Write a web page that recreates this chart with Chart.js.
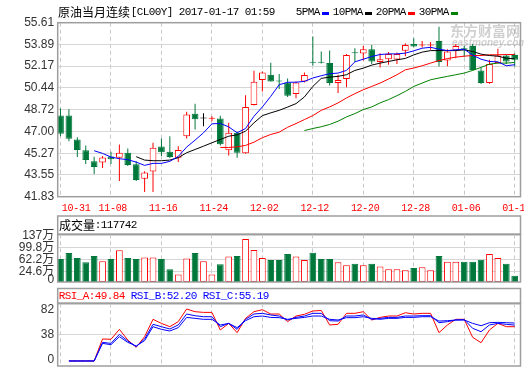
<!DOCTYPE html>
<html>
<head>
<meta charset="utf-8">
<script src="https://cdn.jsdelivr.net/npm/chart.js@4.4.0/dist/chart.umd.min.js"></script>
<style>
  html, body { margin: 0; padding: 0; background: #fff; }
  #wrap { position: relative; width: 524px; height: 369px; overflow: hidden; background: #fff; }
  #wrap canvas { position: absolute; left: 0; }
</style>
</head>
<body>
<div id="wrap">
  <canvas id="priceChart" width="524" height="214" style="top:0"></canvas>
  <canvas id="volChart" width="524" height="86" style="top:214px"></canvas>
  <canvas id="rsiChart" width="524" height="83" style="top:286px"></canvas>
</div>
<script>
// ---- data ----
const dates = ['10-31','11-01','11-02','11-03','11-04','11-07','11-08','11-09','11-10','11-11',
  '11-14','11-15','11-16','11-17','11-18','11-21','11-22','11-23','11-24','11-25',
  '11-28','11-29','11-30','12-01','12-02','12-05','12-06','12-07','12-08','12-09',
  '12-12','12-13','12-14','12-15','12-16','12-19','12-20','12-21','12-22','12-23',
  '12-26','12-27','12-28','12-29','12-30','01-03','01-04','01-05','01-06','01-09',
  '01-10','01-11','01-12','01-13','01-16'];
const dateTicks = [0, 6, 12, 18, 24, 30, 36, 42, 48, 54];

const opens = [48.26,48.26,46.36,45.50,44.63,44.53,45.02,44.92,45.31,44.39,
  43.26,43.82,45.81,45.39,44.92,46.62,48.39,48.02,48.00,48.02,
  45.50,46.89,45.28,49.10,51.07,51.49,50.97,50.88,49.97,50.96,
  52.52,52.47,52.41,50.83,51.15,53.23,53.17,53.51,52.49,52.72,
  52.70,53.38,53.93,53.80,53.80,54.17,52.61,53.40,53.59,53.77,
  51.83,50.83,52.41,53.01,53.06];
const highs = [48.81,48.75,46.54,45.89,45.00,45.05,45.39,45.97,45.65,44.63,
  43.84,46.10,46.44,46.62,45.83,48.55,49.20,48.44,48.20,48.25,
  47.68,46.99,49.86,51.80,51.75,52.43,51.54,51.20,50.96,51.67,
  54.51,53.32,53.40,51.49,53.14,53.59,53.77,53.85,53.20,53.28,
  53.25,53.99,54.38,54.17,54.09,55.29,53.51,53.93,53.77,53.93,
  52.02,52.67,53.54,53.06,53.20];
const lows = [46.62,46.23,44.97,44.42,43.63,44.10,44.42,43.08,44.26,43.08,
  42.21,42.21,45.05,44.89,44.57,46.44,47.15,47.41,47.81,45.89,
  45.10,44.92,45.23,49.05,50.17,50.96,50.36,49.73,49.62,50.88,
  52.22,52.38,50.64,50.04,50.49,52.49,52.61,52.33,52.06,52.28,
  52.33,52.95,53.66,53.64,53.46,52.14,52.17,52.80,52.88,51.83,
  50.75,50.78,52.38,52.33,52.14];
const closes = [46.81,46.42,45.52,44.73,44.18,44.94,44.79,45.31,44.34,43.15,
  43.74,45.71,45.36,44.97,45.52,48.33,47.96,48.02,48.03,45.99,
  46.89,45.31,48.94,50.94,51.67,50.96,50.95,49.83,50.88,51.46,
  52.44,52.44,50.83,51.07,53.06,53.20,53.51,52.54,52.72,53.14,
  53.14,53.85,53.72,53.87,53.85,52.49,53.32,53.77,53.46,51.86,
  50.83,52.33,53.01,52.54,52.67];

const ma5 = [null,null,null,null,45.47,45.26,44.97,44.84,44.76,44.57,
  44.31,44.47,44.47,44.63,45.02,45.76,46.31,46.89,47.60,47.63,
  47.36,46.89,47.23,48.20,48.94,49.78,50.70,50.89,50.90,50.96,
  51.23,51.41,51.57,51.62,51.83,52.51,52.72,52.93,53.09,53.14,
  53.14,53.20,53.38,53.59,53.66,53.51,53.40,53.46,53.51,53.04,
  52.72,52.54,52.51,52.20,52.28];
const ma10 = [null,null,null,null,null,null,null,null,null,45.00,
  44.73,44.68,44.68,44.73,44.92,45.31,45.57,45.83,46.10,46.36,
  46.62,46.73,47.02,47.68,48.25,48.47,48.67,48.93,49.20,49.73,
  50.56,51.20,51.30,51.36,51.49,51.83,52.01,52.25,52.41,52.54,
  52.67,52.78,53.06,53.28,53.40,53.40,53.40,53.40,53.46,53.33,
  53.12,53.01,52.96,52.80,52.75];
const ma20 = [null,null,null,null,null,null,null,null,null,null,
  null,null,null,null,null,null,null,null,null,45.73,
  45.73,45.78,45.89,46.15,46.50,46.76,46.94,47.33,47.62,47.94,
  48.25,48.67,48.94,49.26,49.65,49.99,50.30,50.56,50.83,51.15,
  51.49,51.88,52.02,52.20,52.41,52.61,52.77,52.88,52.96,53.01,
  53.01,53.07,53.07,53.09,53.09];
const ma30 = [null,null,null,null,null,null,null,null,null,null,
  null,null,null,null,null,null,null,null,null,null,
  null,null,null,null,null,null,null,null,null,47.07,
  47.23,47.37,47.55,47.81,48.15,48.41,48.73,48.94,49.26,49.52,
  49.83,50.17,50.56,50.83,51.09,51.23,51.36,51.49,51.62,51.83,
  52.07,52.33,52.41,52.41,52.46];

// volume in 万
const volumes = [63.3,82.1,66.4,53.9,72.7,57.0,63.3,90.5,66.4,63.3,
  68.6,68.6,63.3,32.0,15.4,65.5,82.1,57.0,15.4,47.6,
  71.7,72.7,126.0,91.5,66.4,60.2,60.2,79.0,71.7,60.2,
  83.0,63.3,63.3,53.9,44.5,48.6,44.5,48.6,40.4,32.0,
  32.0,28.8,35.5,38.2,28.8,72.7,54.8,54.8,54.8,54.8,
  61.1,79.0,66.4,48.6,11.7742];

const rsiA = [null,0,0,0,0,32.0,31.5,46.0,30.5,19.9,
  35.4,60.6,54.7,49.9,57.2,75.6,71.7,70.7,70.7,45.1,
  54.7,41.2,62.0,71.7,74.6,68.3,68.3,57.2,65.4,67.9,
  72.7,73.5,52.4,53.3,69.3,69.3,71.7,59.6,63.4,65.4,
  65.4,70.2,68.3,69.3,69.3,41.2,52.4,60.6,60.6,34.4,
  26.6,45.1,54.7,49.9,49.84];
const rsiB = [null,0,0,0,0,27.1,25.6,38.7,29.1,20.9,
  32.0,53.3,49.9,46.5,52.4,68.3,65.8,64.4,64.4,49.9,
  54.7,46.0,60.6,68.3,69.3,66.9,65.4,59.6,63.4,65.4,
  69.3,69.3,58.6,58.1,65.4,65.4,66.9,60.6,62.0,63.4,
  63.4,65.4,65.4,65.9,65.9,55.7,57.2,59.6,60.1,47.5,
  42.6,52.4,54.7,53.3,52.20];
const rsiC = [null,0,0,0,0,25.6,23.7,35.4,27.1,21.8,
  29.6,49.9,46.0,43.6,48.5,63.4,62.0,60.6,60.6,52.4,
  54.7,48.5,58.6,64.4,65.4,63.4,63.0,60.6,62.0,63.4,
  65.4,65.4,60.6,59.6,63.0,63.0,64.4,62.0,60.6,62.0,
  62.0,63.4,63.4,64.4,64.4,58.1,58.6,59.6,59.6,54.7,
  51.3,55.7,56.2,55.7,55.19];

const priceTicks = [55.61, 53.89, 52.17, 50.44, 48.72, 47.00, 45.27, 43.55, 41.83];
const volTicks = [0, 24.6, 62.2, 99.8, 137];
const rsiTicks = [0, 38, 82];

const titleName = '原油当月连续';
const titleCode = '[CL00Y] 2017-01-17 01:59';
const maNames = ['5PMA', '10PMA', '20PMA', '30PMA'];

// ---- look ----
const RED = '#ff0000', GREEN = '#00783c', BLUE = '#0000ff', BLACK = '#000000', DKGREEN = '#008000';
const maColors = [BLUE, BLACK, RED, DKGREEN];
const GRID = '#d6d6d6', VGRID = '#c8c8c8', FRAME = '#9e9e9e';
const FONT_CJK = '"Noto Sans CJK SC", sans-serif';
const FONT_MONO = '"Liberation Mono", "DejaVu Sans Mono", monospace';
const FONT_AXIS = '"Liberation Sans", "Noto Sans CJK SC", sans-serif';
const X_MIN = -0.333, X_MAX = 54.69;
const AXIS_W = 57.7, PAD_RIGHT = 3.5;
const VOL_MIN = -7.8, VOL_MAX = 140.4;
const RSI_MIN = -7.3, RSI_MAX = 83.9;

const pts = arr => arr.map((y, x) => ({ x, y }));
const candleColor = closes.map((c, i) => c > opens[i] ? RED : (c < opens[i] ? GREEN : BLACK));
const volUp = closes.map((c, i) => c >= opens[i]);

function monoText(ctx, text, x, y, step) {
    ctx.textAlign = 'center';
    for (let k = 0; k < text.length; k++) {
        ctx.fillText(text[k], x + step * k + step / 2, y);
    }
}

function drawFrame(ctx, x1, y1, x2, y2) {
    ctx.save();
    ctx.strokeStyle = FRAME;
    ctx.lineWidth = 1.5;
    ctx.strokeRect(x1, y1, x2 - x1, y2 - y1);
    ctx.restore();
}

function xAxis(height) {
    return {
        type: 'linear', min: X_MIN, max: X_MAX, offset: false,
        afterBuildTicks: s => { s.ticks = dateTicks.map(v => ({ value: v })); },
        afterFit: s => { s.height = height; },
        ticks: { display: false },
        grid: { color: VGRID, drawTicks: false, offset: false },
        border: { display: false, dash: [4, 3] }
    };
}

function yAxis(min, max, values, showTicks, label) {
    return {
        type: 'linear', min, max, beginAtZero: false,
        afterBuildTicks: s => { s.ticks = values.map(v => ({ value: v })); },
        afterFit: s => { s.width = AXIS_W; },
        ticks: {
            display: showTicks, autoSkip: false, padding: 3.5, color: '#333',
            font: { family: FONT_AXIS, size: 12 },
            callback: label
        },
        grid: {
            drawTicks: false,
            color: c => (c.tick && c.tick.value === 0) ? 'rgba(0,0,0,0)' : GRID
        },
        border: { display: false }
    };
}

const common = {
    responsive: false, animation: false, events: [],
    plugins: { legend: { display: false }, tooltip: { enabled: false } }
};

// ---- price panel ----
const priceDecor = {
    id: 'priceDecor',
    beforeDatasetsDraw(chart) {
        const ctx = chart.ctx;
        ctx.save();
        ctx.fillStyle = 'rgba(150,150,150,0.45)';
        ctx.textBaseline = 'middle';
        ctx.textAlign = 'left';
        ctx.font = 'bold 14px ' + FONT_CJK;
        ctx.fillText('东方财富网', 450, 31);
        ctx.font = 'italic bold 10px "Liberation Sans"';
        ctx.fillText('eastmoney.com', 452, 43);
        ctx.restore();
    },
    afterDraw(chart) {
        const { ctx, chartArea: a, scales: { x } } = chart;
        drawFrame(ctx, a.left, a.top, a.right, a.bottom);
        ctx.save();
        ctx.textBaseline = 'middle';
        ctx.fillStyle = '#000';
        ctx.textAlign = 'left';
        ctx.font = '12px ' + FONT_CJK;
        ctx.fillText(titleName, 58, 12.5);
        ctx.font = '11px ' + FONT_MONO;
        monoText(ctx, titleCode, 131, 12.5, 6);

        let lx = 296;
        maNames.forEach((name, k) => {
            ctx.fillStyle = '#000';
            monoText(ctx, name, lx, 12.5, 6);
            lx += name.length * 6 + 2;
            ctx.fillStyle = maColors[k];
            ctx.fillRect(lx, 12, 7, 3);
            lx += 11;
        });

        ctx.fillStyle = RED;
        ctx.font = '10px ' + FONT_MONO;
        dateTicks.forEach((v, k) => {
            const label = dates[v];
            const px = x.getPixelForValue(v);
            const w = label.length * 5.7;
            const start = k === 0 ? px + 1.5 : px + 2 - w / 2;
            monoText(ctx, label, start, 208, 5.7);
        });
        ctx.restore();
    }
};

new Chart(document.getElementById('priceChart'), {
    type: 'bar',
    data: {
        datasets: [
            { type: 'line', data: pts(ma5), borderColor: BLUE, borderWidth: 1, pointRadius: 0, order: 0 },
            { type: 'line', data: pts(ma10), borderColor: BLACK, borderWidth: 1, pointRadius: 0, order: 0 },
            { type: 'line', data: pts(ma20), borderColor: RED, borderWidth: 1, pointRadius: 0, order: 0 },
            { type: 'line', data: pts(ma30), borderColor: DKGREEN, borderWidth: 1, pointRadius: 0, order: 0 },
            {
                type: 'bar', order: 1,
                data: opens.map((o, i) => ({ x: i, y: [o, closes[i]] })),
                backgroundColor: candleColor.map(c => c === RED ? '#ffffff' : c),
                borderColor: candleColor,
                borderWidth: 1, borderSkipped: false, minBarLength: 1,
                grouped: false, barPercentage: 1, maxBarThickness: 7
            },
            {
                type: 'bar', order: 2,
                data: lows.map((l, i) => ({ x: i, y: [l, highs[i]] })),
                backgroundColor: candleColor,
                borderWidth: 0,
                grouped: false, barPercentage: 1, maxBarThickness: 1
            }
        ]
    },
    options: {
        ...common,
        layout: { autoPadding: false, padding: { top: 22.7, right: PAD_RIGHT, left: 0, bottom: 0 } },
        scales: {
            x: xAxis(214 - 196.7),
            y: yAxis(41.83, 55.61, priceTicks, true, v => v.toFixed(2))
        }
    },
    plugins: [priceDecor]
});

// ---- volume panel ----
const volDecor = {
    id: 'volDecor',
    afterDraw(chart) {
        const { ctx, chartArea: a } = chart;
        drawFrame(ctx, a.left, 2, a.right, a.top);
        drawFrame(ctx, a.left, a.top, a.right, a.bottom);
        ctx.save();
        ctx.fillStyle = '#000';
        ctx.textBaseline = 'middle';
        ctx.textAlign = 'left';
        ctx.font = '12px ' + FONT_CJK;
        ctx.fillText('成交量', 59, 11.5);
        ctx.font = '11px ' + FONT_MONO;
        const last = Math.round(volumes[volumes.length - 1] * 10000);
        monoText(ctx, ':' + last, 95, 11.5, 6);
        ctx.restore();
    }
};

new Chart(document.getElementById('volChart'), {
    type: 'bar',
    data: {
        datasets: [{
            data: pts(volumes),
            base: VOL_MIN,
            backgroundColor: volUp.map(u => u ? '#ffffff' : GREEN),
            borderColor: volUp.map(u => u ? RED : GREEN),
            borderWidth: 1, borderSkipped: false,
            grouped: false, barPercentage: 1, maxBarThickness: 7
        }]
    },
    options: {
        ...common,
        layout: { autoPadding: false, padding: { top: 20.3, right: PAD_RIGHT, left: 0, bottom: 0 } },
        scales: {
            x: xAxis(86 - 68),
            y: yAxis(VOL_MIN, VOL_MAX, volTicks, true, v => v === 0 ? '0' : v + '万')
        }
    },
    plugins: [volDecor]
});

// ---- RSI panel ----
const rsiDecor = {
    id: 'rsiDecor',
    afterDraw(chart) {
        const { ctx, chartArea: a, scales: { y } } = chart;
        drawFrame(ctx, a.left, 2.5, a.right, a.top);
        drawFrame(ctx, a.left, a.top, a.right, a.bottom);
        ctx.save();
        ctx.textBaseline = 'middle';
        ctx.font = '11px ' + FONT_MONO;
        const n = rsiA.length - 1;
        ctx.fillStyle = RED;
        monoText(ctx, 'RSI_A:' + rsiA[n].toFixed(2), 59, 10, 6);
        ctx.fillStyle = BLUE;
        monoText(ctx, 'RSI_B:' + rsiB[n].toFixed(2), 131, 10, 6);
        monoText(ctx, 'RSI_C:' + rsiC[n].toFixed(2), 203, 10, 6);

        ctx.font = '12px ' + FONT_AXIS;
        ctx.fillStyle = '#333';
        ctx.textAlign = 'right';
        rsiTicks.forEach(v => {
            const py = Math.min(Math.max(y.getPixelForValue(v), a.top + 6.5), a.bottom - 6.5);
            ctx.fillText(String(v), a.left - 3.5, py);
        });
        ctx.restore();
    }
};

new Chart(document.getElementById('rsiChart'), {
    type: 'line',
    data: {
        datasets: [
            { data: pts(rsiC), borderColor: BLUE, borderWidth: 1, pointRadius: 0, order: 0 },
            { data: pts(rsiB), borderColor: BLUE, borderWidth: 1, pointRadius: 0, order: 1 },
            { data: pts(rsiA), borderColor: RED, borderWidth: 1, pointRadius: 0, order: 2 }
        ]
    },
    options: {
        ...common,
        layout: { autoPadding: false, padding: { top: 17.3, right: PAD_RIGHT, left: 0, bottom: 0 } },
        scales: {
            x: xAxis(3),
            y: yAxis(RSI_MIN, RSI_MAX, rsiTicks, false)
        }
    },
    plugins: [rsiDecor]
});
</script>
</body>
</html>
